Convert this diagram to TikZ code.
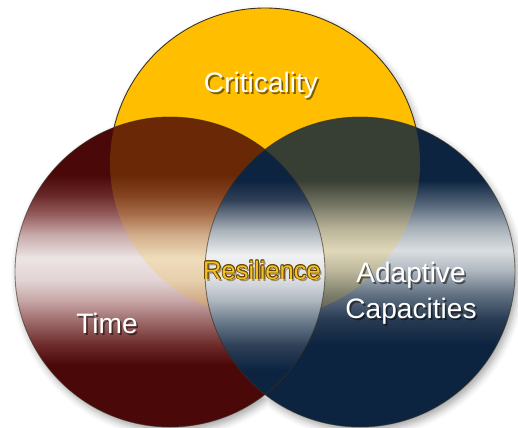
\documentclass[tikz,border=0pt]{standalone}
\usepackage{fontspec}
\setmainfont{Liberation Sans}
\usetikzlibrary{shadows.blur}

% colours
\definecolor{critgold}{RGB}{255,190,0}
\definecolor{critedge}{RGB}{58,48,32}
\definecolor{timedark}{RGB}{74,8,8}
\definecolor{timeA}{RGB}{110,42,42}
\definecolor{timeB}{RGB}{160,110,110}
\definecolor{timeC}{RGB}{200,168,168}
\definecolor{timeD}{RGB}{226,212,212}
\definecolor{timeE}{RGB}{236,228,228}
\definecolor{timeF}{RGB}{200,170,170}
\definecolor{timeG}{RGB}{150,95,95}
\definecolor{timeH}{RGB}{105,40,40}
\definecolor{adaptdark}{RGB}{12,36,64}
\definecolor{adaptA}{RGB}{40,58,82}
\definecolor{adaptB}{RGB}{96,112,130}
\definecolor{adaptC}{RGB}{176,184,192}
\definecolor{adaptD}{RGB}{218,222,226}
\definecolor{adaptE}{RGB}{168,176,184}
\definecolor{adaptF}{RGB}{88,104,124}
\definecolor{lensA}{RGB}{48,64,88}
\definecolor{lensB}{RGB}{112,128,144}
\definecolor{lensC}{RGB}{240,241,242}
\definecolor{resgold}{RGB}{242,192,40}
\definecolor{resedge}{RGB}{96,64,0}

\pgfdeclareverticalshading{timeshade}{100bp}{color(0bp)=(timedark); color(35bp)=(timedark);
  color(38.2bp)=(timeA); color(42.3bp)=(timeB); color(45.5bp)=(timeC); color(48.7bp)=(timeD);
  color(52.3bp)=(timeE); color(56bp)=(timeF); color(59.2bp)=(timeG); color(62.4bp)=(timeH);
  color(65.6bp)=(timedark); color(100bp)=(timedark)}
\pgfdeclareverticalshading{adaptshade}{100bp}{color(0bp)=(adaptdark); color(38.2bp)=(adaptdark);
  color(42.3bp)=(adaptA); color(46.3bp)=(adaptB); color(50.3bp)=(adaptC); color(53.5bp)=(adaptD);
  color(57.1bp)=(adaptE); color(60.8bp)=(adaptF); color(64.8bp)=(adaptdark); color(100bp)=(adaptdark)}
\pgfdeclareverticalshading{lensshade}{100bp}{color(0bp)=(adaptdark); color(34.2bp)=(adaptdark);
  color(38.2bp)=(lensA); color(42.3bp)=(lensB); color(45.5bp)=(adaptC); color(48.7bp)=(adaptD);
  color(52.7bp)=(lensC); color(56.8bp)=(adaptE); color(61.6bp)=(lensA); color(64.8bp)=(adaptdark); color(100bp)=(adaptdark)}

\tikzset{
  venn edge/.style={draw=critedge, line width=0.5pt},
  label text/.style={text=white, font=\fontsize{16}{20}\selectfont, align=center, anchor=base},
  label shadow/.style={label text, text=black, text opacity=0.5},
  res text/.style={text=resgold, font=\fontsize{14.5}{17}\selectfont, anchor=base},
  res outline/.style={res text, text=resedge},
}

\begin{document}
\begin{tikzpicture}[x=0.02cm, y=-0.02cm]
\useasboundingbox (0,0) rectangle (518,427);
\coordinate (crit) at (265,163);
\coordinate (time) at (170,272);
\coordinate (adapt) at (360,272);
% soft shadow under the three circles
\path[blur shadow={shadow xshift=1.5pt, shadow yshift=-2.5pt, shadow blur radius=4pt, shadow opacity=35}]
  (crit) circle (155) (time) circle (155) (adapt) circle (155);
% Criticality circle
\fill[critgold] (crit) circle (155);
\draw[venn edge] (crit) circle (155);
% Time and Adaptive Capacities circles
\shade[shading=timeshade] (time) circle (155);
\shade[shading=adaptshade] (adapt) circle (155);
% centre lens
\begin{scope}
  \clip (time) circle (155);
  \shade[shading=lensshade] (adapt) circle (155);
\end{scope}
% gold showing through the two-way overlaps
\begin{scope}
  \clip (crit) circle (155);
  \fill[critgold, opacity=0.18, even odd rule] (time) circle (155) (adapt) circle (155);
\end{scope}
\draw[venn edge, draw opacity=0.6] (time) circle (155) (adapt) circle (155);

% Labels
\coordinate (critpos) at (261,92);
\coordinate (timepos) at (107,333);
\coordinate (adaptpos) at (411,318);
\coordinate (respos) at (262,279);
\node[label shadow] (critshadow) at ([shift={(1pt,-1.2pt)}]critpos) {Criticality};
\node[label text] (critlabel) at (critpos) {Criticality};
\node[label shadow] (timeshadow) at ([shift={(1pt,-1.2pt)}]timepos) {Time};
\node[label text] (timelabel) at (timepos) {Time};
\node[label shadow] (adaptshadow) at ([shift={(1pt,-1.2pt)}]adaptpos) {Adaptive\\Capacities};
\node[label text] (adaptlabel) at (adaptpos) {Adaptive\\Capacities};
\node[res outline, text opacity=0.5] (resshadow) at ([shift={(1.2pt,-1.4pt)}]respos) {Resilience};
\foreach \a in {0,45,...,315}
  \node[res outline] (resedge-\a) at ([shift={(\a:0.5pt)}]respos) {Resilience};
\node[res text] (reslabel) at (respos) {Resilience};
\end{tikzpicture}
\end{document}
